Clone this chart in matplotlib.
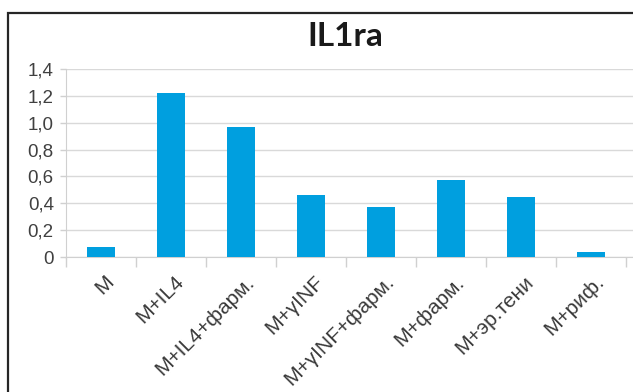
import matplotlib
matplotlib.use("Agg")
import matplotlib.pyplot as plt
import matplotlib.transforms as mtransforms
from matplotlib.patches import Rectangle
import numpy as np

groups = ["M", "M+IL4", "M+IL4+фарм.", "M+γINF", "M+γINF+фарм.",
          "M+фарм.", "M+эр.тени", "M+риф."]
il1ra = [0.075, 1.22, 0.965, 0.465, 0.37, 0.575, 0.45, 0.035]
yticks = [0, 0.2, 0.4, 0.6, 0.8, 1.0, 1.2, 1.4]
ylabels = ["0", "0,2", "0,4", "0,6", "0,8", "1,0", "1,2", "1,4"]

W, H = 633, 392
fig = plt.figure(figsize=(W / 100, H / 100), dpi=100)

# outer chart frame, cut off on the right and bottom
fig.patches.append(Rectangle((8 / W, -0.2), 1.2, 1.2 - 13 / H,
                             transform=fig.transFigure, fill=False,
                             lw=1.6, ec="#262626"))

ax = fig.add_axes([66 / W, 1 - 257 / H, (W - 66) / W, (257 - 69) / H])
x = np.arange(len(groups))
ax.bar(x, il1ra, width=0.4, color="#009FDF", zorder=3)

ax.set_xlim(-0.5, 7.6)
ax.set_ylim(0, 1.4)
ax.set_yticks(yticks)
ax.set_yticklabels(ylabels, fontsize=13.5, color="#404040",
                   family="Liberation Sans")
ax.tick_params(axis="y", length=4.3, color="#d0d0d0", width=1, pad=4.5)

# category boundaries carry the tick marks, centres carry the labels
ax.set_xticks(np.arange(len(groups) + 1) - 0.5)
ax.set_xticklabels([])
ax.set_xticks(x, minor=True)
ax.set_xticklabels(groups, minor=True, rotation=45, ha="right", va="center",
                   rotation_mode="anchor", fontsize=15, color="#3a3a3a",
                   family="Liberation Sans")
ax.tick_params(axis="x", which="major", length=7.5, color="#d0d0d0", width=1)
ax.tick_params(axis="x", which="minor", length=0, pad=0)
shift = mtransforms.ScaledTranslation(10 / 100, -22 / 100, fig.dpi_scale_trans)
for lab in ax.get_xticklabels(minor=True):
    lab.set_transform(lab.get_transform() + shift)

ax.grid(axis="y", color="#d9d9d9", lw=1, zorder=0)
for s in ["top", "right"]:
    ax.spines[s].set_visible(False)
ax.spines["left"].set_color("#d0d0d0")
ax.spines["bottom"].set_color("#d0d0d0")
ax.set_facecolor("none")

fig.text(345 / W, 1 - 36 / H, "IL1ra", ha="center", va="center",
         fontsize=24, fontweight="bold", family="Lato", color="#1a1a1a")

fig.savefig("out.png", dpi=100)
